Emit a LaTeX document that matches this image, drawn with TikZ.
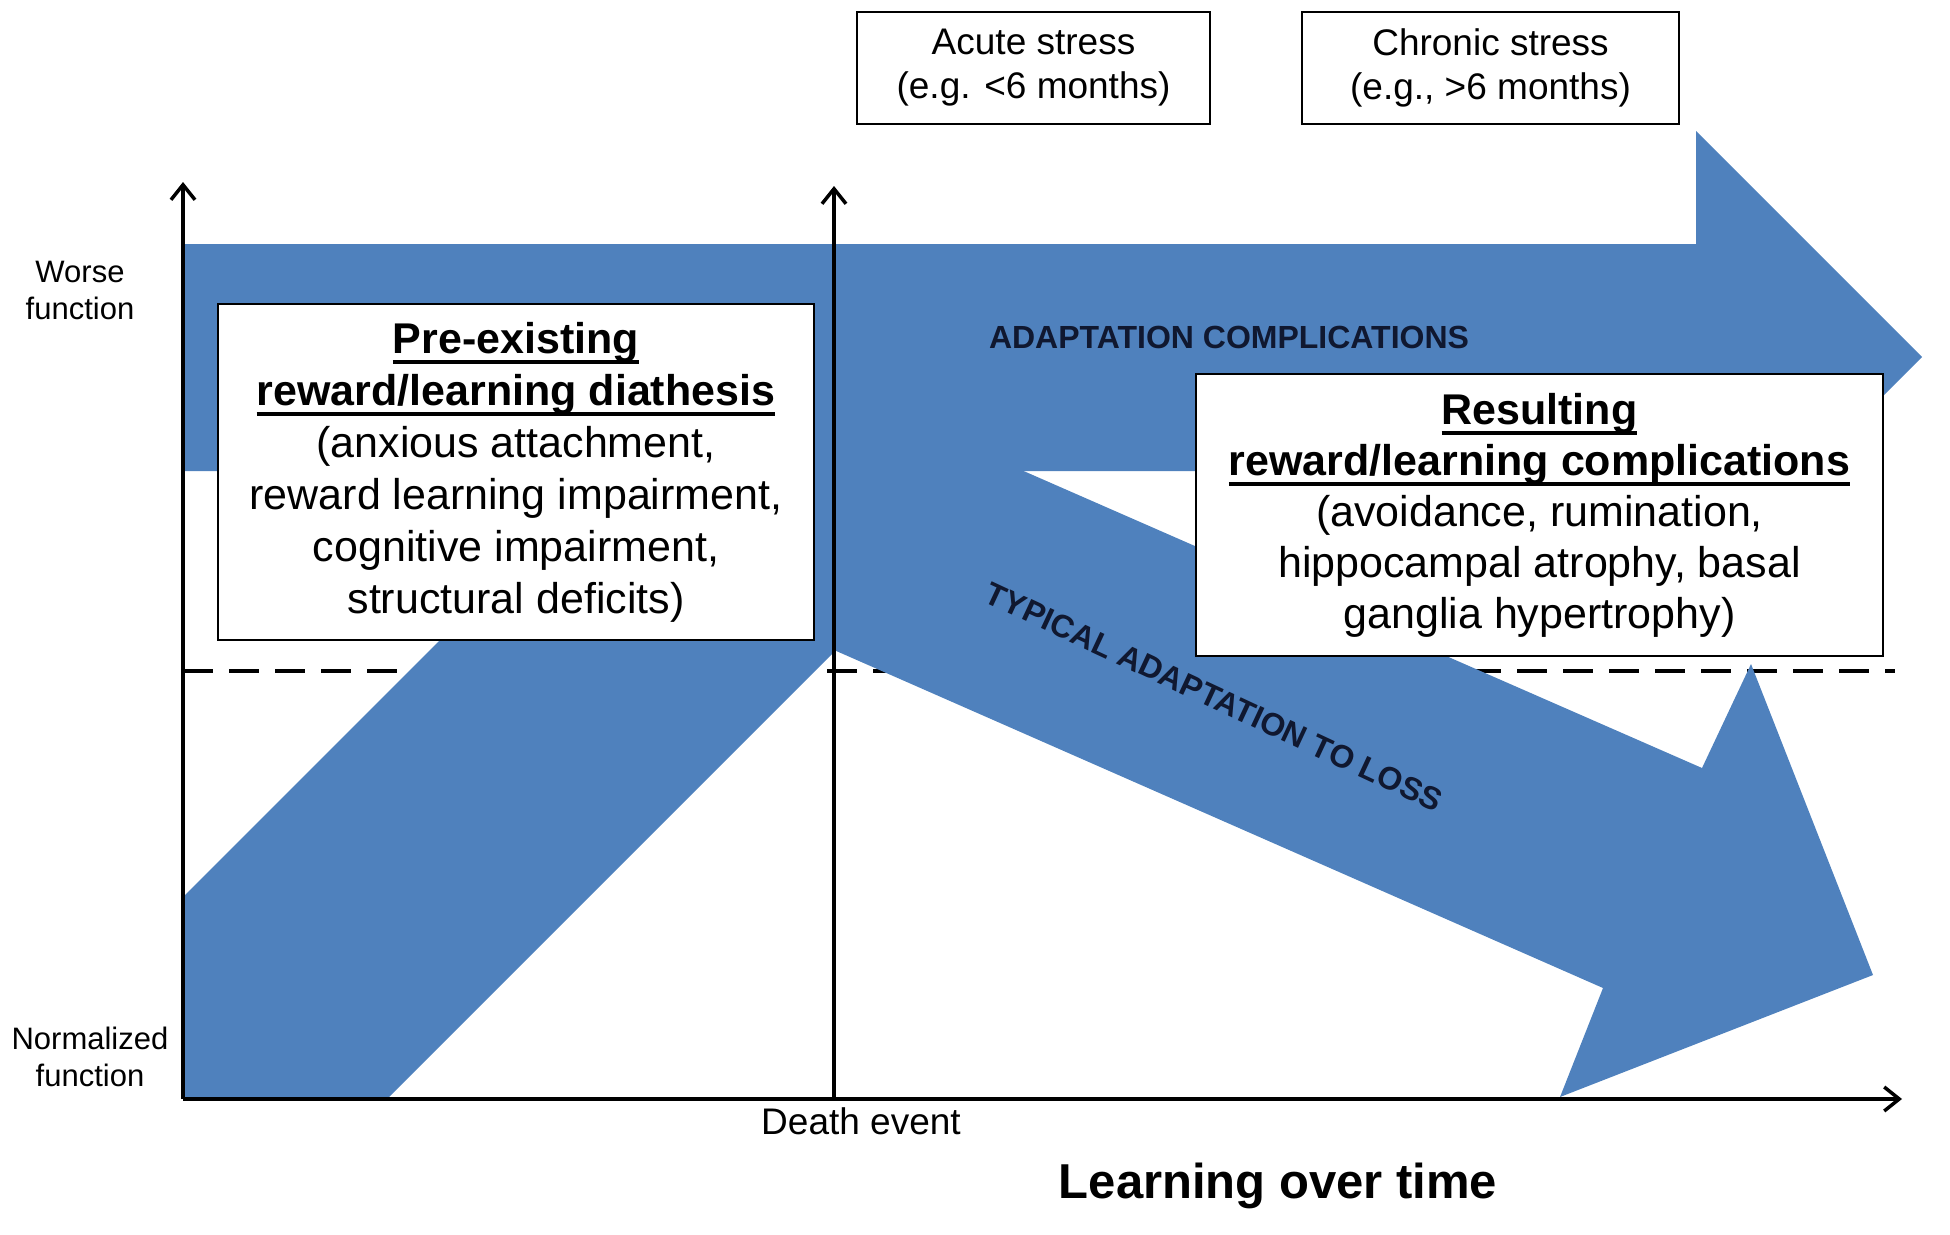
\documentclass[tikz,border=0pt]{standalone}
\usepackage{fontspec}
\setmainfont{Liberation Sans}
\usetikzlibrary{arrows.meta}

\definecolor{arrowblue}{RGB}{79,129,189}
\definecolor{labelink}{RGB}{16,24,48}

% bold heading with a thick rule under it
\newcommand{\ulhead}[1]{\setbox0\hbox{\bfseries #1}\rlap{\rule[-11pt]{\wd0}{4pt}}\box0}

\begin{document}
\begin{tikzpicture}[x=1pt, y=-1pt]
			\tikzstyle{axis}      = [line width=3.5pt, -{Straight Barb[length=15pt,width=24pt]}]
			\tikzstyle{infobox}   = [draw=black, line width=2pt, fill=white, align=center, inner sep=0pt]
			\tikzstyle{stressbox} = [draw=black, line width=2pt, fill=white, align=center, minimum height=112pt, font=\fontsize{37}{44}\selectfont]
			\tikzstyle{flowlabel} = [text=labelink, font=\fontsize{32}{38}\selectfont\bfseries]
			\tikzstyle{axislabel} = [align=center, font=\fontsize{31}{37}\selectfont]

			\useasboundingbox (0,0) rectangle (1950,1234);

%			\draw[step=100, gray!50] (0,0) grid (1950,1234);

			\coordinate (orig) at (183, 1099);
			\coordinate (ytop) at (183, 182);
			\coordinate (death) at (834, 1099);
			\coordinate (dtop) at (834, 186);
			\coordinate (xend) at (1902, 1099);
			\coordinate (normL) at (183, 671);
			\coordinate (normR) at (1895, 671);

			\draw[line width=4pt, dash pattern=on 30pt off 16pt] (normL) -- (normR);

			% rising band, adaptation complications, typical adaptation
			\fill[arrowblue] (183,1100) -- (386,1100) -- (834,652) -- (834,471) -- (609,471) -- (183,897) -- cycle;
			\fill[arrowblue] (183,244) -- (1696,244) -- (1696,131) -- (1922,357) -- (1696,583) -- (1696,471) -- (183,471) -- cycle;
			\fill[arrowblue] (834,388) -- (1702,768) -- (1751,664) -- (1873,975) -- (1560,1097) -- (1603,988) -- (834,650) -- cycle;

			\foreach \from/\to in {orig/ytop, death/dtop, orig/xend}
				\draw[axis] (\from) -- (\to);

			\node[infobox, minimum width=596pt, minimum height=336pt, font=\fontsize{43}{52}\selectfont] (priorbox) at (516, 472)
				{\ulhead{Pre-existing}\\\ulhead{reward/learning diathesis}\\(anxious attachment,\\reward learning impairment,\\cognitive impairment,\\structural deficits)};
			\node[infobox, minimum width=687pt, minimum height=282pt, font=\fontsize{43}{51}\selectfont] (resultbox) at (1539.5, 515)
				{\ulhead{Resulting}\\\ulhead{reward/learning complications}\\(avoidance, rumination,\\hippocampal atrophy, basal\\ganglia hypertrophy)};

			\foreach \name/\x/\w/\txt in {acute/1033.5/353/{Acute stress\\(e.g. <6 months)}, chronic/1490.5/377/{Chronic stress\\(e.g., >6 months)}}
				\node[stressbox, minimum width=\w pt] (\name) at (\x, 68) {\txt};

			\node[flowlabel] (adaptlbl) at (1229, 337) {ADAPTATION COMPLICATIONS};
			\node[flowlabel, rotate=-25] (typicallbl) at (1214, 697) {TYPICAL ADAPTATION TO LOSS};

			\node[axislabel] (worselbl) at (80, 290) {Worse\\function};
			\node[axislabel] (normlbl) at (90, 1057) {Normalized\\function};
			\node[font=\fontsize{37}{44}\selectfont] (deathlbl) at (861, 1121) {Death event};
			\node[font=\fontsize{49}{58}\selectfont\bfseries] (timelbl) at (1278, 1186) {Learning over time};

		\end{tikzpicture}
\end{document}
